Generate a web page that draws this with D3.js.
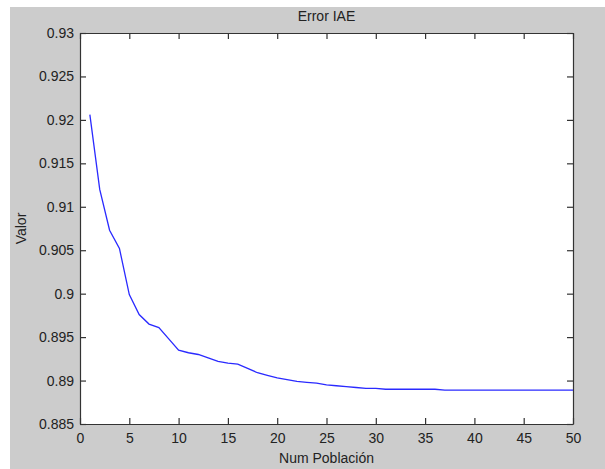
<!DOCTYPE html>
<html><head><meta charset="utf-8">
<script src="https://cdn.jsdelivr.net/npm/d3@7"></script>
<style>body{margin:0;background:#fff}svg{display:block}text{font-family:"Liberation Sans",Arial,sans-serif;fill:#222}</style>
</head><body>
<script>
const populationSizes = d3.range(1, 51);
const iaeValues = [0.9206,0.9120,0.9073,0.9052,0.8999,0.8976,0.8965,0.8961,0.8948,0.8935,
0.8932,0.8930,0.8926,0.8922,0.8920,0.8919,0.8914,0.8909,0.8906,0.8903,
0.8901,0.8899,0.8898,0.8897,0.8895,0.8894,0.8893,0.8892,0.8891,0.8891,
0.8890,0.8890,0.8890,0.8890,0.8890,0.8890,0.8889,0.8889,0.8889,0.8889,
0.8889,0.8889,0.8889,0.8889,0.8889,0.8889,0.8889,0.8889,0.8889,0.8889];
const xTicks = [0,5,10,15,20,25,30,35,40,45,50];
const yTicks = [0.885,0.89,0.895,0.9,0.905,0.91,0.915,0.92,0.925,0.93];
const title = "Error IAE", xLabel = "Num Población", yLabel = "Valor";

const W=605,H=469, L=80, R=573, T=33, B=424;
const svg=d3.select("body").append("svg").attr("width",W).attr("height",H);
svg.append("rect").attr("x",10).attr("y",7).attr("width",W-10).attr("height",H-7).attr("fill","#cccccc");
svg.append("rect").attr("x",L).attr("y",T).attr("width",R-L).attr("height",B-T).attr("fill","#fff");

const x=d3.scaleLinear().domain([0,50]).range([L,R]);
const y=d3.scaleLinear().domain([0.885,0.93]).range([B,T]);
const fmt=d=>String(+d.toFixed(3));

const gb=svg.append("g").attr("transform",`translate(0,${B})`).call(d3.axisBottom(x).tickValues(xTicks).tickFormat(fmt).tickSizeInner(-6).tickSizeOuter(0).tickPadding(9));
const gt=svg.append("g").attr("transform",`translate(0,${T})`).call(d3.axisTop(x).tickValues(xTicks).tickFormat("").tickSizeInner(-6).tickSizeOuter(0));
const gl=svg.append("g").attr("transform",`translate(${L},0)`).call(d3.axisLeft(y).tickValues(yTicks).tickFormat(fmt).tickSizeInner(-6).tickSizeOuter(0).tickPadding(6));
const gr=svg.append("g").attr("transform",`translate(${R},0)`).call(d3.axisRight(y).tickValues(yTicks).tickFormat("").tickSizeInner(-6).tickSizeOuter(0));
[gb,gt,gl,gr].forEach(g=>{
  g.selectAll(".domain").attr("stroke","#333").attr("stroke-width",1.2);
  g.selectAll(".tick line").attr("stroke","#333").attr("stroke-width",1.2);
  g.selectAll("text").attr("font-size",14).attr("fill","#222").attr("font-family","Liberation Sans, Arial, sans-serif");
});

const line=d3.line().x((d,i)=>x(populationSizes[i])).y(d=>y(d));
svg.append("path").datum(iaeValues).attr("d",line).attr("fill","none").attr("stroke","#2a2aff").attr("stroke-width",1.3);

svg.append("text").attr("x",(L+R)/2).attr("y",21).attr("text-anchor","middle").attr("font-size",14).text(title);
svg.append("text").attr("x",(L+R)/2).attr("y",463).attr("text-anchor","middle").attr("font-size",14).text(xLabel);
svg.append("text").attr("transform",`translate(26,${(T+B)/2}) rotate(-90)`).attr("text-anchor","middle").attr("font-size",14).text(yLabel);
</script>
</body></html>
